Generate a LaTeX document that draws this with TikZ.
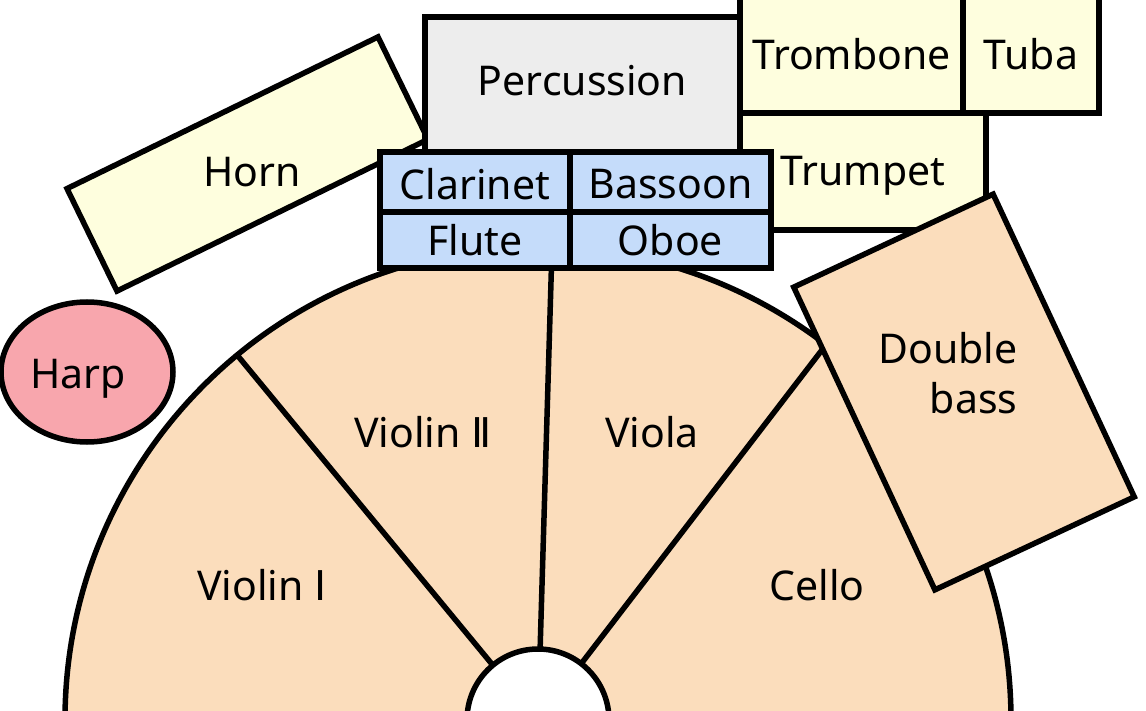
\documentclass[tikz,border=0pt]{standalone}
\usepackage{fontspec}
\setmainfont{Noto Sans}
\newfontfamily\romfont{DejaVu Sans}
\usetikzlibrary{shapes.geometric}
\definecolor{strcol}{HTML}{FBDDBC}
\definecolor{windcol}{HTML}{C5DCFA}
\definecolor{brasscol}{HTML}{FEFEDE}
\definecolor{perccol}{HTML}{EDEDED}
\definecolor{harpcol}{HTML}{F8A6AD}
\tikzset{
  seat/.style={draw=black, line width=5.5pt, inner sep=0pt},
}

\begin{document}
\begin{tikzpicture}[x=1pt,y=-1pt,font=\fontsize{41}{50}\selectfont]
\useasboundingbox (0,0) rectangle (1146,711);
\clip (0,0) rectangle (1146,711);

% strings
\coordinate (c) at (538,720);
\filldraw[seat, fill=strcol] (c) ++(-180:473) arc (-180:0:473) -- cycle;
\foreach \a in {-129.5,-88.3,-52.5}
  \draw[seat] (c) -- ++(\a:473);
\filldraw[seat, fill=white] (c) circle (71);
\foreach \n/\x/\y/\t in {vone/262/585/{Violin {\romfont Ⅰ}},
    vtwo/423/432/{Violin {\romfont Ⅱ}},
    vla/652/432/Viola, vc/817/585/Cello}
  \node (\n) at (\x,\y) {\t};

\node[seat, ellipse, fill=harpcol, minimum width=172, minimum height=140] (harp) at (87,372) {};
\node (harplbl) at (78,379) {Harp};

\node[seat, fill=brasscol, minimum width=346, minimum height=114, rotate=26] (horn) at (247.5,164) {};
\node (hornlbl) at (252,172) {Horn};

% percussion and brass
\foreach \n/\x/\y/\w/\h/\f/\d/\t in {perc/582.5/84.5/315/135/perccol/4/Percussion,
    tbn/851.5/51.5/223/123/brasscol/-3/Trombone, tuba/1031/51.5/136/123/brasscol/-3/Tuba,
    tpt/863/171.5/246/117/brasscol/-4/Trumpet}
{
  \node[seat, fill=\f, minimum width=\w, minimum height=\h] (\n) at (\x,\y) {};
  \node (\n-t) at ([yshift=\d]\n.center) {\t};
}

\node[seat, fill=strcol, minimum width=220, minimum height=334, rotate=25] (bass) at (964,392) {};
\node[align=right, anchor=east] (basslbl) at (1021,373) {Double\\bass};

% woodwinds
\foreach \n/\x/\y/\w/\h/\d/\t in {cl/475/182/190/60/-2/Clarinet, bn/670.5/182/201/60/-2/Bassoon,
    fl/475/240/190/56/0/Flute, ob/670.5/240/201/56/0/Oboe}
{
  \node[seat, fill=windcol, minimum width=\w, minimum height=\h] (\n) at (\x,\y) {};
  \node (\n-t) at ([yshift=\d]\n.center) {\t};
}
\end{tikzpicture}
\end{document}
